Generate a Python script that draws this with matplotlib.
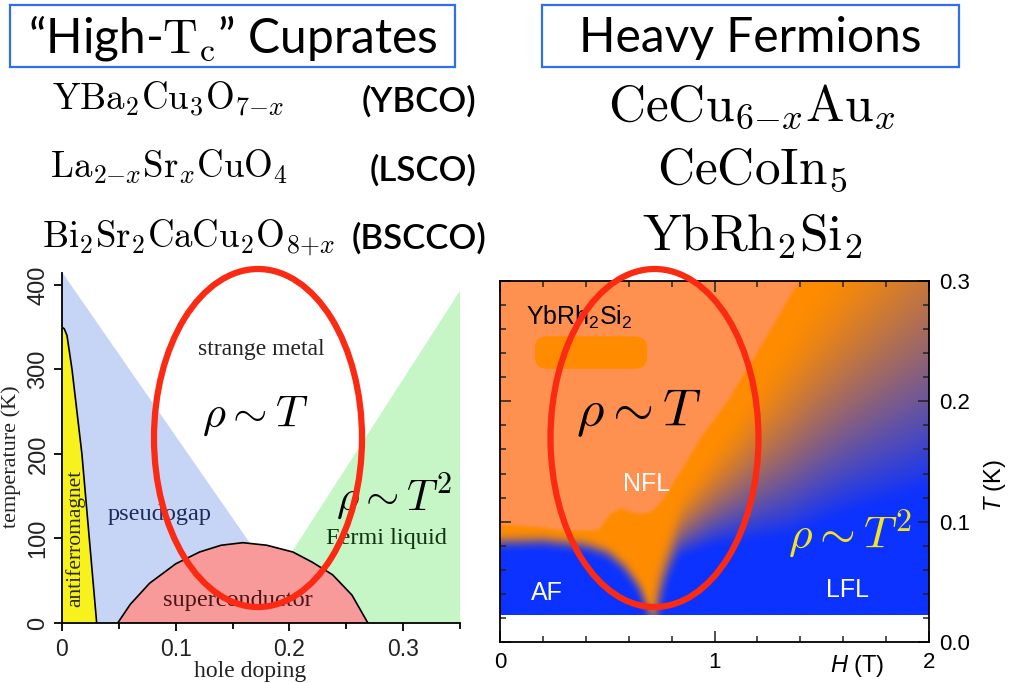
import numpy as np
import matplotlib
matplotlib.use('Agg')
import matplotlib.pyplot as plt
from matplotlib.patches import Ellipse, Rectangle, FancyBboxPatch, Polygon

plt.rcParams['mathtext.fontset'] = 'cm'
plt.rcParams['mathtext.rm'] = 'Liberation Sans'
plt.rcParams['mathtext.it'] = 'Liberation Sans:italic'
plt.rcParams['mathtext.sf'] = 'Liberation Sans'

# ---- cuprate phase diagram (hole doping, temperature K) ----
pg_x = [0.0, 0.214, 0.0]
pg_T = [415, 0, 0]
fl_x = [0.162, 0.35, 0.35]
fl_T = [0, 393, 0]
af_x = [0.0, 0.0, 0.002, 0.0044, 0.0088, 0.0175, 0.024, 0.0305]
af_T = [0, 350, 348, 340, 300, 200, 100, 0]
sc_x = [0.049, 0.06, 0.077, 0.1, 0.121, 0.14, 0.159, 0.18, 0.203, 0.22, 0.238, 0.255, 0.269]
sc_T = [0, 22, 47, 70, 84, 92, 95, 92, 84, 72, 57, 33, 0]

# ---- YbRh2Si2 phase diagram (field T, temperature K) ----
T_floor = 0.0225
afm_H = [0.0, 0.2, 0.4, 0.5, 0.58, 0.65, 0.7]
afm_T = [0.083, 0.084, 0.08, 0.074, 0.062, 0.045, 0.022]
lfl_H = [0.72, 0.77, 0.83, 1.0, 1.35, 1.63, 2.0]
lfl_T = [0.0, 0.045, 0.07, 0.08, 0.088, 0.107, 0.125]
cross_H = [0.72, 0.85, 1.1, 1.45, 2.0]
cross_T = [0.06, 0.125, 0.19, 0.29, 0.43]
nflb_H = [0.0, 0.2, 0.31, 0.46, 0.51, 0.56, 0.645, 0.705, 0.75]
nflb_T = [0.0975, 0.095, 0.092, 0.093, 0.106, 0.111, 0.106, 0.108, 0.116]
nfle_T = [0.108, 0.116, 0.141, 0.168, 0.2, 0.235, 0.302]
nfle_H = [0.705, 0.75, 0.84, 0.93, 1.06, 1.18, 1.40]
H_qcp = 0.72

light_orange = np.array([255, 145, 80]) / 255
dark_orange = np.array([255, 140, 0]) / 255
blue = np.array([12, 50, 255]) / 255

W, Hpx = 1028, 683


def fx(x):
    return x / W


def fy(y):
    return 1 - y / Hpx


def blur(img, r):
    for axis in (0, 1):
        pad = [(0, 0)] * img.ndim
        pad[axis] = (r, r)
        p = np.pad(img, pad, mode='edge')
        n = img.shape[axis]
        img = sum(np.take(p, range(k, k + n), axis=axis) for k in range(2 * r + 1)) / (2 * r + 1)
    return img


fig = plt.figure(figsize=(10.28, 6.83), dpi=100)

# ---------------- left: cuprates ----------------
ax = fig.add_axes([fx(62), fy(623), fx(460) - fx(62), fy(273) - fy(623)])
ax.add_patch(Polygon(list(zip(pg_x, pg_T)), closed=True, fc='#c6d5f6', ec='none'))
ax.add_patch(Polygon(list(zip(fl_x, fl_T)), closed=True, fc='#c6f6c6', ec='none'))
ax.fill(af_x, af_T, fc='#f7f21e', ec='none')
ax.plot(af_x[1:], af_T[1:], color='k', lw=1.2)
ax.fill(sc_x, sc_T, fc='#f89a9a', ec='none')
ax.plot(sc_x, sc_T, color='k', lw=1.2)
ax.set_xlim(0, 0.35)
ax.set_ylim(0, 414)
for s in ['top', 'right']:
    ax.spines[s].set_visible(False)
for s in ['left', 'bottom']:
    ax.spines[s].set_linewidth(1.3)
ax.set_xticks([0, 0.1, 0.2, 0.3])
ax.set_xticklabels(['0', '0.1', '0.2', '0.3'], fontsize=16.5, family='Liberation Sans', color='#222')
ax.set_xticks([0.05, 0.15, 0.25, 0.35], minor=True)
ax.set_yticks([0, 100, 200, 300, 400])
ax.set_yticklabels(['0', '100', '200', '300', '400'], fontsize=17, family='Liberation Sans',
                   color='#222', rotation=90, va='center')
ax.tick_params(which='major', direction='out', length=6, width=1.3)
ax.tick_params(which='minor', direction='out', length=4, width=1.3)
ax.tick_params(axis='y', pad=3)
ax.tick_params(axis='x', pad=5)
ax.set_xlabel('hole doping', family='Liberation Serif', fontsize=17, color='#222')
ax.xaxis.set_label_coords(0.472, -0.108)
ax.set_ylabel('temperature (K)', family='Liberation Serif', fontsize=16, color='#222')
ax.yaxis.set_label_coords(-0.102, 0.474)

serif = 'Liberation Serif'
ax.text(0.175, 323, 'strange metal', family=serif, fontsize=17, ha='center', va='center', color='#222')
ax.text(0.086, 128, 'pseudogap', family=serif, fontsize=17.5, ha='center', va='center', color='#1c2a5c')
ax.text(0.285, 100, 'Fermi liquid', family=serif, fontsize=17.5, ha='center', va='center', color='#143214')
ax.text(0.155, 27, 'superconductor', family=serif, fontsize=17.5, ha='center', va='center', color='#4a1515')
ax.text(0.0114, 100, 'antiferromagnet', family=serif, fontsize=15.5, ha='center', va='center',
        rotation=90, color='#2a2a10')
ax.text(0.170, 245, r'$\rho\sim T$', fontsize=32, ha='center', va='center')
ax.text(0.343, 149, r'$\rho\sim T^2$', fontsize=31, ha='right', va='center')

# ---------------- right: YbRh2Si2 ----------------
ax2 = fig.add_axes([fx(500), fy(642), fx(929) - fx(500), fy(281) - fy(642)])
Hg = np.linspace(0, 2, 500)
Tg = np.linspace(T_floor, 0.3, 360)
HH, TT = np.meshgrid(Hg, Tg)
b_left = np.clip((np.interp(HH, afm_H, afm_T) + 0.005 - TT) / 0.01, 0, 1)
t_top = np.interp(HH, cross_H, cross_T)
t_low = np.interp(HH, lfl_H, lfl_T)
u = np.clip((t_top - TT) / (t_top - t_low), 0, 1)
b = blur(np.where(HH < H_qcp, b_left, u ** 1.7), 6)
nfl = (TT > np.interp(HH, nflb_H, nflb_T)) & (HH < np.interp(TT, nfle_T, nfle_H))
base = np.where(nfl[..., None], light_orange, dark_orange)
rgb = base * (1 - b[..., None]) + blue * b[..., None]
rgb = np.clip(blur(rgb, 2), 0, 1)
ax2.imshow(rgb, extent=[0, 2, T_floor, 0.3], origin='lower', aspect='auto', interpolation='bilinear')
ax2.add_patch(FancyBboxPatch((0.163, 0.227), 0.522, 0.027,
                             boxstyle='round,pad=0,rounding_size=0.056',
                             mutation_aspect=0.178, fc='#ff8c00', ec='none'))
ax2.set_xlim(0, 2)
ax2.set_ylim(0, 0.3)
ax2.set_xticks([0, 1, 2])
ax2.set_xticklabels(['0', '1', '2'], fontsize=16, family='Liberation Sans')
ax2.set_xticks(np.arange(0, 2.01, 0.2), minor=True)
ax2.yaxis.tick_right()
ax2.set_yticks([0, 0.1, 0.2, 0.3])
ax2.set_yticklabels(['0.0', '0.1', '0.2', '0.3'], fontsize=16, family='Liberation Sans')
ax2.set_yticks(np.arange(0, 0.301, 0.02), minor=True)
ax2.tick_params(which='both', direction='in', top=True, bottom=True, left=True, right=True,
                labelleft=False, labelright=True, width=1.1, color='#222')
ax2.tick_params(which='major', length=8, pad=7)
ax2.tick_params(which='minor', length=4.5)
for s in ax2.spines.values():
    s.set_linewidth(1.3)
ax2.set_xlabel(r'$H$ (T)', fontsize=17, math_fontfamily='custom', family='Liberation Sans')
ax2.xaxis.set_label_coords(0.832, -0.03)
ax2.yaxis.set_label_position('right')
ax2.set_ylabel(r'$T$ (K)', fontsize=17, math_fontfamily='custom', family='Liberation Sans',
               rotation=90, va='bottom')
ax2.yaxis.set_label_coords(1.183, 0.435)

sans = 'Liberation Sans'
ax2.text(0.12, 0.27, r'YbRh$_\mathsf{2}$Si$_\mathsf{2}$', family=sans, fontsize=18, va='center',
         math_fontfamily='custom')
ax2.text(0.685, 0.131, 'NFL', family=sans, fontsize=18, color='white', ha='center', va='center')
ax2.text(0.22, 0.041, 'AF', family=sans, fontsize=18, color='white', ha='center', va='center')
ax2.text(1.62, 0.043, 'LFL', family=sans, fontsize=18, color='white', ha='center', va='center')
ax2.text(0.65, 0.19, r'$\rho\sim T$', fontsize=38, ha='center', va='center')
ax2.text(1.63, 0.09, r'$\rho\sim T^2$', fontsize=33, ha='center', va='center', color='#f2e51e')

# ---------------- red ellipses ----------------
for cx in (258, 654.5):
    fig.add_artist(Ellipse((fx(cx), fy(438)), 208 / W, 338 / Hpx, transform=fig.transFigure,
                           fc='none', ec='#fb2a12', lw=4.5))

# ---------------- header text ----------------
for x0, x1 in ((10, 455), (542, 959)):
    fig.add_artist(Rectangle((fx(x0), fy(67)), (x1 - x0) / W, 62 / Hpx, transform=fig.transFigure,
                             fc='none', ec='#2f6fe8', lw=1.6))
title_font = ['Lato', 'DejaVu Sans']
fig.text(fx(233), fy(38), '“High-$\\mathrm{T_c}$” Cuprates', family=title_font, fontsize=34.5,
         ha='center', va='center')
fig.text(fx(750), fy(38), 'Heavy Fermions', family=title_font, fontsize=34.5, ha='center', va='center')

cuprate_formulas = [r'$\mathrm{YBa_2Cu_3O}_{7{-}x}$', r'$\mathrm{La}_{2{-}x}\mathrm{Sr}_x\mathrm{CuO_4}$',
                    r'$\mathrm{Bi_2Sr_2CaCu_2O}_{8{+}x}$']
cuprate_short = ['(YBCO)', '(LSCO)', '(BSCCO)']
for f, x, y in zip(cuprate_formulas, (52, 50, 42), (110, 178, 247)):
    fig.text(fx(x), fy(y), f, fontsize=26.5, ha='left', va='baseline')
for s, x, y in zip(cuprate_short, (362, 370, 352), (101, 170, 238)):
    fig.text(fx(x), fy(y), s, family=title_font, fontsize=25, fontweight='semibold',
             ha='left', va='center')

hf_formulas = [r'$\mathrm{CeCu}_{6{-}x}\mathrm{Au}_x$', r'$\mathrm{CeCoIn_5}$', r'$\mathrm{YbRh_2Si_2}$']
for f, y in zip(hf_formulas, (120, 183, 250)):
    fig.text(fx(752), fy(y), f, fontsize=37, ha='center', va='baseline')

fig.savefig('out.png', dpi=100)
